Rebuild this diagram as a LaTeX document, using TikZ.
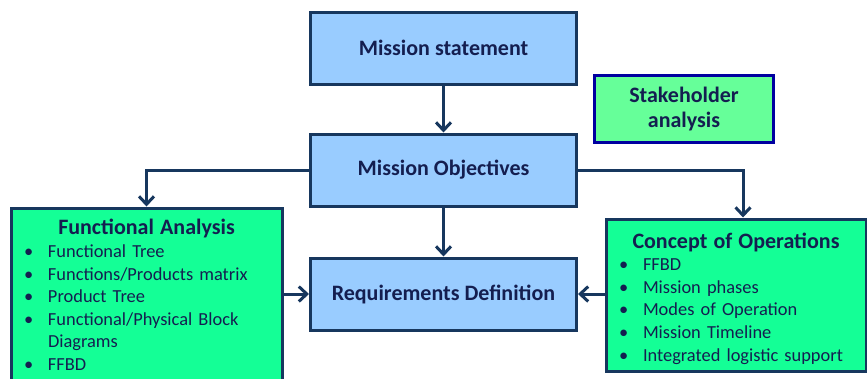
\documentclass[tikz,border=0pt]{standalone}
\usepackage{fontspec}
\setmainfont{Carlito}
\usepackage{tikz}
\usetikzlibrary{positioning, arrows.meta}
\usepackage{xcolor}

\definecolor{navyline}{RGB}{23,55,94}
\definecolor{navytext}{RGB}{20,30,80}
\definecolor{boxblue}{RGB}{153,204,255}
\definecolor{boxgreen}{RGB}{20,255,150}
\definecolor{lightgreen}{RGB}{102,255,153}
\definecolor{deepblue}{RGB}{0,0,160}

\newcommand{\listitem}[1]{\par\noindent\hangindent=24pt\hangafter=1\makebox[24pt][l]{\textbullet}#1}

\tikzset{
  bluebox/.style={rectangle, draw=navyline, line width=3pt, fill=boxblue,
    minimum width=266pt, minimum height=72pt, text=navytext,
    font=\fontsize{22}{26}\selectfont\bfseries},
  stakebox/.style={rectangle, draw=deepblue, line width=3pt, fill=lightgreen,
    minimum width=179pt, minimum height=67pt, text=navytext, align=center,
    font=\fontsize{22}{25}\selectfont\bfseries},
  listbox/.style={rectangle, draw=navyline, line width=3pt, fill=boxgreen,
    anchor=north west, inner xsep=13pt, inner ysep=6pt, text=navytext,
    font=\fontsize{18.4}{22.6}\selectfont},
  link/.style={draw=navyline, line width=3pt, -{Straight Barb[length=8pt,width=15pt,line width=3pt]}}
}

\begin{document}
\begin{tikzpicture}[x=1pt,y=-1pt]
  \useasboundingbox (0,0) rectangle (867,378);

  \node[bluebox] (ms) at (443.5,48) {Mission statement};
  \node[bluebox] (mo) [below=47pt of ms] {Mission Objectives};
  \node[bluebox] (rd) [below=49pt of mo] {Requirements Definition};
  \node[stakebox] (sh) at (684,109) {Stakeholder\\analysis};

  \node[listbox, text width=245pt, minimum height=174pt] (fa) at (9.5,206.5) {%
    {\centering\fontsize{22}{22.6}\selectfont\bfseries Functional Analysis\par}
    \listitem{Functional Tree}
    \listitem{Functions/Products matrix}
    \listitem{Product Tree}
    \listitem{Functional/Physical Block\newline Diagrams}
    \listitem{FFBD}\par};
  \node[listbox, text width=234pt, minimum height=152pt] (co) at (604.5,217.5) {%
    {\centering\fontsize{22}{22.6}\selectfont\bfseries\rule{0pt}{22.5pt}Concept of Operations\par}
    \listitem{FFBD}
    \listitem{Mission phases}
    \listitem{Modes of Operation}
    \listitem{Mission Timeline}
    \listitem{Integrated logistic support}\par};
  \coordinate (coin) at ([xshift=7pt]co.north);

  \path[link]
    (ms) edge (mo)
    (mo) edge (rd);
  \draw[link] (mo.west) -| (fa.north);
  \draw[link] (mo.east) -| (coin);
  \draw[link] (rd.west -| fa.east) -- (rd.west);
  \draw[link] (rd.east -| co.west) -- (rd.east);
\end{tikzpicture}
\end{document}
